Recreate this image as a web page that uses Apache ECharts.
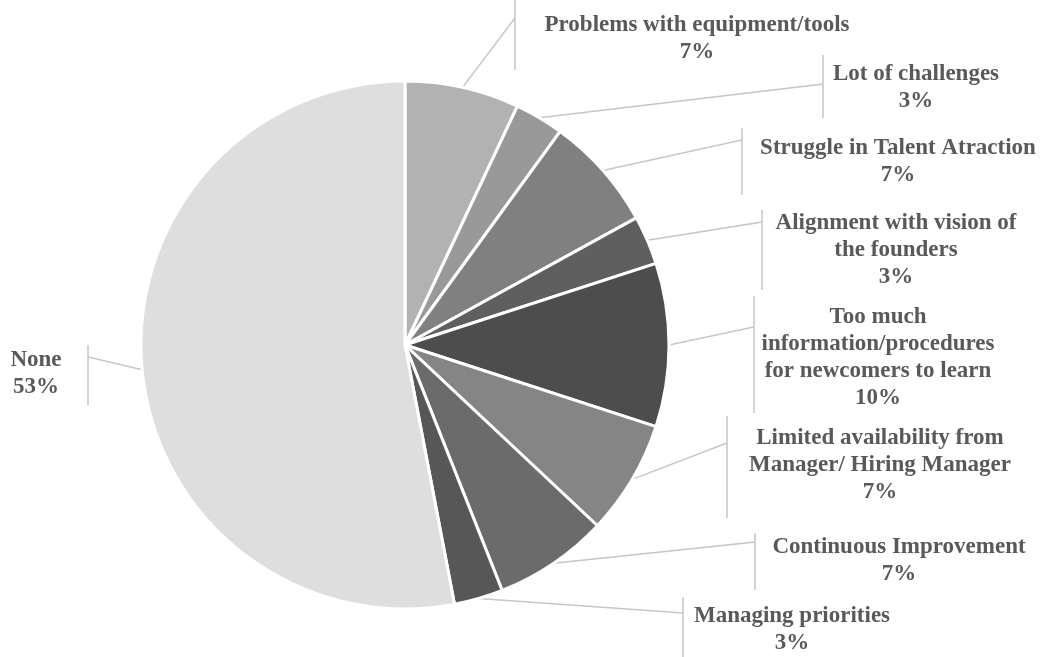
<!DOCTYPE html>
<html>
<head>
<meta charset="utf-8">
<title>Challenges</title>
<script src="https://cdn.jsdelivr.net/npm/echarts@6/dist/echarts.min.js"></script>
<style>
  html, body { margin: 0; padding: 0; background: #ffffff; }
  #chart { width: 1040px; height: 657px; }
</style>
</head>
<body>
<div id="chart"></div>
<script>
// Answer categories, clockwise from twelve o'clock
const categories = [
  'Problems with equipment/tools',
  'Lot of challenges',
  'Struggle in Talent Atraction',
  'Alignment with vision of\nthe founders',
  'Too much\ninformation/procedures\nfor newcomers to learn',
  'Limited availability from\nManager/ Hiring Manager',
  'Continuous Improvement',
  'Managing priorities',
  'None'
];

// Share of respondents (%)
const shares = [7, 3, 7, 3, 10, 7, 7, 3, 53];

// Slice fills
const sliceColors = [
  '#b2b2b2', '#999999', '#808080', '#5f5f5f', '#4d4d4d',
  '#858585', '#6b6b6b', '#575757', '#dedede'
];

// Callout placement: label centre [x, y], bracket x, bracket top/bottom, leader end y
const callouts = [
  { c: [697, 39],  bx: 515, top: 0,   bottom: 70,  ay: 18 },
  { c: [916, 88],  bx: 823, top: 55,  bottom: 118, ay: 84 },
  { c: [898, 162], bx: 742, top: 128, bottom: 195, ay: 140 },
  { c: [896, 250], bx: 762, top: 210, bottom: 290, ay: 222 },
  { c: [878, 358], bx: 754, top: 296, bottom: 413, ay: 327 },
  { c: [880, 465], bx: 727, top: 416, bottom: 518, ay: 443 },
  { c: [899, 561], bx: 755, top: 533, bottom: 590, ay: 542 },
  { c: [792, 630], bx: 683, top: 597, bottom: 657, ay: 613 },
  { c: [36, 374],  bx: 88,  top: 345, bottom: 405, ay: 357 }
];

const chart = echarts.init(document.getElementById('chart'), null, { renderer: 'canvas' });

chart.setOption({
  backgroundColor: '#ffffff',
  animation: false,
  series: [{
    type: 'pie',
    center: [405, 345],
    radius: 264,
    startAngle: 90,
    clockwise: true,
    avoidLabelOverlap: false,
    data: categories.map((name, i) => ({
      name: name,
      value: shares[i],
      itemStyle: { color: sliceColors[i] }
    })),
    itemStyle: { borderColor: '#ffffff', borderWidth: 3 },
    label: {
      show: true,
      position: 'outside',
      formatter: p => p.name + '\n' + Math.round(p.percent) + '%',
      fontFamily: '"Liberation Serif", "Times New Roman", serif',
      fontWeight: 'bold',
      fontSize: 23,
      lineHeight: 27,
      color: '#595959'
    },
    labelLine: {
      show: true,
      length: 4,
      length2: 4,
      smooth: false,
      lineStyle: { color: '#c6c6c6', width: 1.5 }
    },
    labelLayout: function (params) {
      const spot = callouts[params.dataIndex];
      const pts = params.labelLinePoints;
      const out = {
        x: spot.c[0],
        y: spot.c[1],
        align: 'center',
        verticalAlign: 'middle',
        hideOverlap: false
      };
      if (pts && pts.length) {
        out.labelLinePoints = [
          pts[0],
          [spot.bx, spot.ay],
          [spot.bx, spot.top],
          [spot.bx, spot.bottom]
        ];
      }
      return out;
    },
    emphasis: { disabled: true }
  }]
});
</script>
</body>
</html>
